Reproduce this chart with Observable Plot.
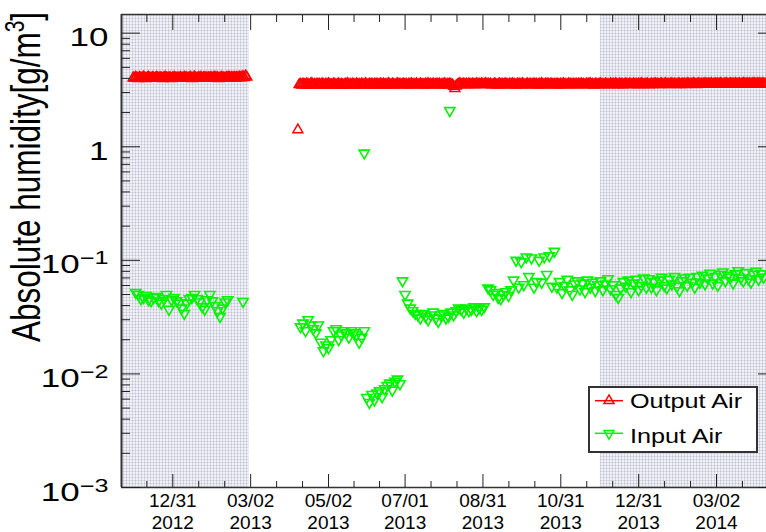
<!DOCTYPE html>
<html><head><meta charset="utf-8">
<script src="https://cdn.jsdelivr.net/npm/d3@7"></script>
<script src="https://cdn.jsdelivr.net/npm/@observablehq/plot@0.6"></script>
<style>
html,body{margin:0;padding:0;background:#fff;overflow:hidden;}
#wrap{position:relative;width:766px;height:532px;font-family:"Liberation Sans",Arial,sans-serif;}
#legend{position:absolute;left:588px;top:386px;}
</style></head>
<body><div id="wrap"><div id="chart"></div><div id="legend"></div></div>
<script>
// ---------- data ----------
const seriesNames = ["Output Air", "Input Air"];
const seriesColors = ["#ff0000", "#00f400"];

// x tick dates and labels
const xTickDates = ["2012-12-31","2013-03-02","2013-05-02","2013-07-01","2013-08-31","2013-10-31","2013-12-31","2014-03-02"];
const xTickLabels = ["12/31\n2012","03/02\n2013","05/02\n2013","07/01\n2013","08/31\n2013","10/31\n2013","12/31\n2013","03/02\n2014"];
const yTicks = [0.001, 0.01, 0.1, 1, 10];

// shaded (winter) periods
const shadeStarts = ["2012-11-01", "2013-12-01"];
const shadeEnds = ["2013-03-01", "2014-05-01"];

// Output Air (daily samples from start)
const outLeftStart = "2012-11-30";
const outLeft = [4.05,4.0,4.1,4.02,3.98,4.08,4.03,4.0,4.12,4.05,3.97,4.06,4.1,4.02,4.0,4.07,4.03,3.99,4.1,4.05,
  4.0,4.08,4.02,3.98,4.06,4.11,4.03,4.0,4.07,4.04,3.97,4.05,4.1,4.02,4.0,4.06,4.03,4.08,3.99,4.05,
  4.1,4.02,4.06,4.0,4.04,4.09,3.98,4.05,4.12,4.03,4.0,4.07,4.02,4.1,3.99,4.06,4.04,4.08,4.01,4.05,
  4.03,4.09,4.0,4.06,4.11,4.02,4.07,3.98,4.05,4.1,4.03,4.06,4.0,4.08,4.04,4.12,4.02,4.07,4.05,4.1,
  4.03,4.08,4.06,4.12,4.05,4.1,4.15,4.07,4.2,4.1];
const outOutlierDates = ["2013-04-08"];
const outOutlierValues = [1.41];
const outRightStart = "2013-04-09";
const outRight = [3.52,3.55,3.49,3.57,3.53,3.5,3.58,3.54,3.47,3.56,3.6,3.51,3.54,3.49,3.57,3.52,3.55,3.5,3.58,3.53,
  3.48,3.56,3.52,3.59,3.51,3.54,3.49,3.57,3.55,3.5,3.53,3.58,3.5,3.55,3.52,3.47,3.56,3.54,3.6,3.51,
  3.55,3.49,3.57,3.53,3.5,3.58,3.52,3.55,3.48,3.56,3.54,3.51,3.59,3.53,3.5,3.56,3.52,3.57,3.49,3.55,
  3.53,3.57,3.5,3.54,3.58,3.51,3.56,3.49,3.55,3.52,3.6,3.53,3.5,3.57,3.54,3.48,3.55,3.59,3.52,3.56,
  3.5,3.54,3.57,3.52,3.55,3.48,3.56,3.53,3.59,3.51,3.55,3.52,3.58,3.5,3.54,3.57,3.52,3.55,3.49,3.56,
  3.53,3.6,3.51,3.55,3.52,3.58,3.5,3.54,3.57,3.52,3.56,3.49,3.55,3.53,3.59,3.51,3.55,3.52,3.57,3.54,
  3.5,3.4,3.25,3.42,3.52,3.55,3.6,3.51,3.54,3.57,3.53,3.56,3.5,3.58,3.54,3.52,3.57,3.55,3.51,3.59,
  3.54,3.56,3.52,3.58,3.55,3.53,3.6,3.54,3.57,3.52,3.56,3.5,3.53,3.57,3.55,3.49,3.54,3.58,3.52,3.56,
  3.51,3.55,3.58,3.53,3.5,3.56,3.54,3.59,3.52,3.55,3.49,3.57,3.53,3.56,3.51,3.58,3.54,3.5,3.55,3.57,
  3.52,3.56,3.5,3.54,3.58,3.53,3.55,3.49,3.57,3.52,3.6,3.54,3.51,3.56,3.53,3.58,3.5,3.55,3.57,3.52,
  3.55,3.51,3.57,3.54,3.49,3.56,3.53,3.59,3.52,3.55,3.5,3.58,3.54,3.56,3.51,3.55,3.53,3.57,3.5,3.56,
  3.54,3.58,3.52,3.55,3.5,3.57,3.53,3.56,3.6,3.52,3.55,3.49,3.57,3.54,3.51,3.56,3.58,3.53,3.55,3.52,
  3.57,3.53,3.55,3.5,3.58,3.54,3.56,3.52,3.59,3.55,3.51,3.57,3.53,3.56,3.5,3.54,3.58,3.55,3.52,3.57,
  3.55,3.52,3.58,3.54,3.56,3.51,3.57,3.53,3.6,3.55,3.52,3.56,3.54,3.58,3.5,3.55,3.57,3.53,3.56,3.59,
  3.54,3.57,3.52,3.56,3.58,3.53,3.55,3.6,3.54,3.57,3.52,3.56,3.59,3.54,3.57,3.53,3.55,3.58,3.56,3.52,
  3.58,3.55,3.57,3.53,3.6,3.56,3.54,3.58,3.55,3.61,3.57,3.53,3.56,3.59,3.55,3.58,3.54,3.57,3.6,3.56,
  3.55,3.58,3.56,3.6,3.54,3.57,3.59,3.55,3.58,3.56,3.61,3.57,3.54,3.58,3.56,3.6,3.55,3.57,3.59,3.56,
  3.58,3.55,3.6,3.57,3.56,3.59,3.54,3.58,3.61,3.56,3.57,3.6,3.55,3.58,3.56,3.59,3.57,3.6,3.56,3.58,
  3.57,3.6,3.56,3.59,3.58,3.55,3.6];

// Input Air (samples every 2 days from each segment start)
const inSegStarts = ["2012-12-02","2013-04-10","2013-04-26","2013-05-06","2013-06-01","2013-06-29","2013-09-04","2013-09-24","2013-10-28"];
const inSeg0 = [0.052,0.05,0.046,0.047,0.049,0.045,0.044,0.047,0.048,0.044,
  0.042,0.046,0.05,0.037,0.045,0.047,0.044,0.042,0.038,0.034,
  0.042,0.046,0.047,0.05,0.046,0.043,0.039,0.037,0.045,0.05,
  0.044,0.04,0.036,0.032,0.038,0.043,0.045];
const inSeg1 = [0.026,0.028,0.024,0.03,0.027,0.025,0.023,0.027];
const inSeg2 = [0.019,0.016,0.018,0.017,0.02];
const inSeg3 = [0.024,0.025,0.02,0.022,0.024,0.023,0.021,0.024,0.023,0.022,0.019,0.021,0.024];
const inSeg4 = [0.0062,0.0056,0.0066,0.0059,0.0068,0.0071,0.0063,0.0074,0.0079,0.0083,0.0072,0.0086,0.009,0.0082];
const inSeg5 = [0.066,0.05,0.042,0.038,0.036,0.034,0.033,0.031,0.034,0.032,
  0.030,0.033,0.035,0.031,0.029,0.033,0.034,0.031,0.032,0.035,
  0.033,0.036,0.038,0.037,0.035,0.038,0.036,0.037,0.039,0.036,
  0.038,0.037,0.039];
const inSeg6 = [0.057,0.055,0.05,0.052,0.047,0.046,0.05,0.053,0.049,0.055];
const inSeg7 = [0.067,0.1,0.058,0.097,0.061,0.107,0.072,0.105,0.058,0.065,0.1,0.064,0.107,0.075,0.11,0.059,0.12];
const inSeg8 = [0.058,0.065,0.052,0.06,0.068,0.055,0.05,0.062,0.066,0.056,0.063,0.053,0.067,0.058,0.064,0.054,0.061,
  0.066,0.055,0.062,0.069,0.056,0.061,0.05,0.047,0.057,0.065,0.059,0.067,0.053,0.063,0.068,0.055,0.06,0.07,0.058,
  0.069,0.058,0.065,0.055,0.067,0.071,0.06,0.057,0.068,0.062,0.072,0.059,0.054,0.066,0.07,0.06,0.071,0.064,0.058,0.072,
  0.064,0.074,0.062,0.07,0.077,0.063,0.072,0.06,0.075,0.079,0.066,0.074,0.071,0.063,0.076,0.081,0.07,0.066,0.078,0.069,0.064,0.075,0.08,0.068,0.076,0.071];
const inOutlierDates = ["2013-02-24", "2013-05-30", "2013-08-05"];
const inOutlierValues = [0.0435, 0.88, 2.08];

// ---------- build tables ----------
function seg(start, values, step) {
  const t0 = new Date(start + "T00:00Z");
  return values.map((v, i) => ({date: d3.utcDay.offset(t0, i * step), value: v}));
}
function pts(dates, values) { return dates.map((d, i) => ({date: new Date(d + "T00:00Z"), value: values[i]})); }

const outputData = [...seg(outLeftStart, outLeft, 1), ...pts(outOutlierDates, outOutlierValues), ...seg(outRightStart, outRight, 1)];
const inSegs = [inSeg0, inSeg1, inSeg2, inSeg3, inSeg4, inSeg5, inSeg6, inSeg7, inSeg8];
const inputData = [...inSegs.flatMap((s, k) => seg(inSegStarts[k], s, 2)), ...pts(inOutlierDates, inOutlierValues)];
const shades = shadeStarts.map((s, i) => ({start: new Date(s + "T00:00Z"), end: new Date(shadeEnds[i] + "T00:00Z")}));

const xMajor = xTickDates.map(d => new Date(d + "T00:00Z"));
const xMinor = [];
for (let i = 0; i < xMajor.length - 1; i++) {
  const a = +xMajor[i], b = +xMajor[i + 1];
  xMinor.push(new Date(a + (b - a) / 3), new Date(a + 2 * (b - a) / 3));
}
{ const a = +xMajor[0], b = +xMajor[1]; xMinor.push(new Date(a - (b - a) / 3)); }
{ const n = xMajor.length, a = +xMajor[n - 2], b = +xMajor[n - 1]; xMinor.push(new Date(b + (b - a) / 3)); }
const yMinor = [];
for (const e of [-3, -2, -1, 0, 1]) for (let k = 2; k <= 9; k++) { const v = k * Math.pow(10, e); if (v < 14.6) yMinor.push(v); }

const xDomain = [new Date("2012-11-20T19:30Z"), new Date("2014-04-10T04:00Z")];
const yDomain = [0.001, 14.6];
const labelOf = d => xTickLabels[xMajor.findIndex(t => +t === +d)];
const yFmt = d => { const e = Math.round(Math.log10(d)); return e >= 0 ? String(Math.round(d)) : "10^" + e; };
const blank = () => "";
const axisInk = "#222";

const chart = Plot.plot({
  width: 766, height: 532,
  marginLeft: 121, marginRight: 0, marginTop: 14, marginBottom: 45,
  style: {fontFamily: "'Liberation Sans', Arial, sans-serif", fontSize: "25px", color: "#000", background: "#fff"},
  x: {type: "utc", domain: xDomain},
  y: {type: "log", domain: yDomain},
  marks: [
    Plot.rect(shades, {x1: "start", x2: "end", fill: "url(#winterPat)", clip: true}),
    Plot.dot(outputData, {x: "date", y: "value", symbol: "triangle", r: 3.7, stroke: seriesColors[0], strokeWidth: 1.5, fill: "none"}),
    Plot.dot(inputData, {x: "date", y: "value", symbol: "triangle", rotate: 180, r: 3.8, stroke: seriesColors[1], strokeWidth: 1.6, fill: "none"}),
    Plot.ruleX([xDomain[0]], {stroke: "#333", strokeWidth: 2}),
    Plot.ruleY([yDomain[0], yDomain[1]], {stroke: "#333", strokeWidth: 1.5}),
    Plot.axisY({ticks: yTicks, tickSize: 0, tickPadding: 13, tickFormat: yFmt, fontSize: 25, dy: 5, label: null}),
    Plot.axisY({ticks: yTicks, tickSize: -19, tickFormat: blank, label: null, stroke: axisInk}),
    Plot.axisY({ticks: yMinor, tickSize: -9, tickFormat: blank, label: null, stroke: axisInk}),
    Plot.axisY({anchor: "right", ticks: yTicks, tickSize: -9, tickFormat: blank, label: null, stroke: axisInk}),
    Plot.axisX({ticks: xMajor, tickSize: 0, tickPadding: 4, tickFormat: labelOf, fontSize: 19, lineHeight: 1.15, label: null}),
    Plot.axisX({ticks: xMajor, tickSize: -13, tickFormat: blank, label: null, stroke: axisInk}),
    Plot.axisX({ticks: xMinor, tickSize: -6, tickFormat: blank, label: null, stroke: axisInk}),
    Plot.axisX({anchor: "top", ticks: xMajor, tickSize: -15, tickFormat: blank, label: null, stroke: axisInk}),
    Plot.axisX({anchor: "top", ticks: xMinor, tickSize: -7, tickFormat: blank, label: null, stroke: axisInk})
  ]
});

// pattern for shaded periods
d3.select(chart).insert("defs", ":first-child").html(
  `<pattern id="winterPat" width="3" height="3" patternUnits="userSpaceOnUse">
     <rect width="3" height="3" fill="#f0f0f6"/>
     <rect x="0" y="0" width="3" height="1" fill="#dcdce6"/>
     <rect x="0" y="0" width="1" height="3" fill="#d8d8e4"/>
     <rect x="0" y="0" width="1" height="1" fill="#c0c0d0"/>
   </pattern>`);

// superscript exponents on y tick labels, widened glyphs
d3.select(chart).selectAll('g[aria-label="y-axis tick label"] text').each(function() {
  const t = this.textContent;
  if (!t) return;
  const sel = d3.select(this);
  if (t.includes("^")) {
    const [base, exp] = t.split("^");
    sel.text("");
    sel.append("tspan").text(base);
    sel.append("tspan").attr("dy", "-9").attr("font-size", "18px").text(exp.replace("-", "\u2212"));
  }
  const ax = +(this.getAttribute("x") || 0);
  const tr = this.getAttribute("transform") || "";
  sel.attr("transform", `${tr} translate(${ax},0) scale(1.4,1) translate(${-ax},0)`);
});

// y axis title
const title = d3.select(chart).append("text")
  .attr("transform", "translate(40,177) rotate(-90) scale(1,1.3)")
  .attr("text-anchor", "middle")
  .attr("font-size", "31.5px")
  .attr("fill", "#000");
title.append("tspan").text("Absolute humidity[g/m");
title.append("tspan").attr("dy", "-12").attr("font-size", "21px").text("3");
title.append("tspan").attr("dy", "12").text("]");

document.getElementById("chart").appendChild(chart);

// legend
const lg = d3.select("#legend").append("svg").attr("width", 170).attr("height", 67)
  .style("font-family", "'Liberation Sans', Arial, sans-serif");
lg.append("rect").attr("x", 1).attr("y", 1).attr("width", 168).attr("height", 65).attr("fill", "#fff").attr("stroke", "#333").attr("stroke-width", 2);
const tri = d3.symbol(d3.symbolTriangle, Math.PI * 3.7 * 3.7)();
[[14.7, 0, 22.3], [47.3, 180, 56.7]].forEach(([cy, rot, base], i) => {
  lg.append("line").attr("x1", 7).attr("x2", 35).attr("y1", cy).attr("y2", cy).attr("stroke", seriesColors[i]).attr("stroke-width", 1.5);
  lg.append("path").attr("d", tri).attr("transform", `translate(21,${cy}) rotate(${rot})`).attr("fill", "none").attr("stroke", seriesColors[i]).attr("stroke-width", 1.5);
  lg.append("text").attr("transform", `translate(42,${base}) scale(1.2,1)`).attr("font-size", "21px").attr("fill", "#000").text(seriesNames[i]);
});
</script>
</body></html>
